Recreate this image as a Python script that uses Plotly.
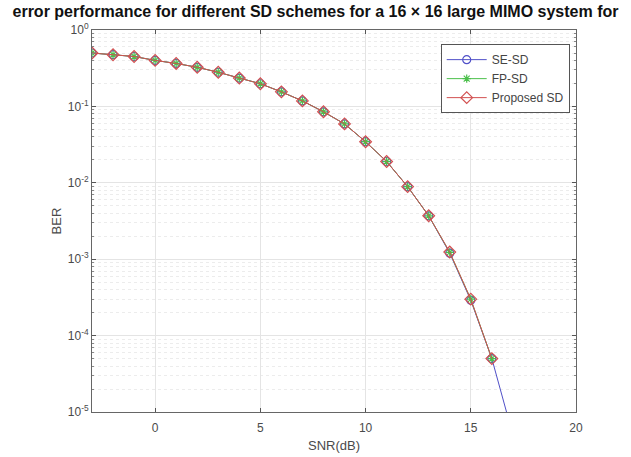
import plotly.graph_objects as go

snr_se = [-3, -2, -1, 0, 1, 2, 3, 4, 5, 6, 7, 8, 9, 10, 11, 12, 13, 14, 15, 16, 17]
ber_se = [0.50, 0.475, 0.45, 0.40, 0.365, 0.325, 0.28, 0.235, 0.198, 0.155, 0.118,
          0.085, 0.059, 0.0345, 0.019, 0.0089, 0.0037, 0.00120, 0.00029, 5.0e-5, 5.0e-6]
snr_fp = [-3, -2, -1, 0, 1, 2, 3, 4, 5, 6, 7, 8, 9, 10, 11, 12, 13, 14, 15, 16]
ber_fp = [0.50, 0.475, 0.45, 0.40, 0.365, 0.325, 0.28, 0.235, 0.198, 0.155, 0.118,
          0.085, 0.059, 0.0345, 0.019, 0.0089, 0.0037, 0.00123, 0.00030, 5.0e-5]
snr_prop = [-3, -2, -1, 0, 1, 2, 3, 4, 5, 6, 7, 8, 9, 10, 11, 12, 13, 14, 15, 16]
ber_prop = [0.50, 0.475, 0.45, 0.40, 0.365, 0.325, 0.28, 0.235, 0.198, 0.155, 0.118,
            0.085, 0.059, 0.0345, 0.019, 0.0089, 0.0037, 0.00124, 0.00030, 5.0e-5]

x_ticks = [0, 5, 10, 15, 20]
y_ticks = [1, 1e-1, 1e-2, 1e-3, 1e-4, 1e-5]
y_tick_text = ["10<sup>0</sup>", "10<sup>-1</sup>", "10<sup>-2</sup>", "10<sup>-3</sup>",
               "10<sup>-4</sup>", "10<sup>-5</sup>"]

title_text = "error performance for different SD schemes for a 16 × 16 large MIMO system for"

FONT = "Liberation Sans, Arial, sans-serif"

fig = go.Figure()
fig.add_trace(go.Scatter(x=snr_se, y=ber_se, name="SE-SD", mode="lines+markers",
                         line=dict(color="#5050c8", width=1),
                         marker=dict(symbol="circle-open", size=8, color="#5050c8",
                                     line=dict(width=1.2))))
fig.add_trace(go.Scatter(x=snr_fp, y=ber_fp, name="FP-SD", mode="lines+markers",
                         line=dict(color="#4cc04c", width=1),
                         marker=dict(symbol="asterisk-open", size=7, color="#4cc04c",
                                     line=dict(width=1.2, color="#4cc04c"))))
fig.add_trace(go.Scatter(x=snr_prop, y=ber_prop, name="Proposed SD", mode="lines+markers",
                         line=dict(color="#d25050", width=1),
                         marker=dict(symbol="diamond-open", size=9, color="#d25050",
                                     line=dict(width=1.2))))

axis_font = dict(family=FONT, size=12, color="#4a4a4a")

fig.update_layout(
    width=631, height=457,
    margin=dict(l=92, r=55, t=30, b=45, autoexpand=False),
    paper_bgcolor="white", plot_bgcolor="white",
    title=dict(text="<b>" + title_text + "</b>", x=0.5, xref="container",
               y=1, yref="container", yanchor="top", pad=dict(t=6),
               font=dict(family=FONT, size=16, color="#111")),
    legend=dict(x=0.987, y=0.963, xanchor="right", yanchor="top",
                bgcolor="white", bordercolor="#555", borderwidth=1,
                font=dict(family=FONT, size=12, color="#444"),
                tracegroupgap=0, itemwidth=40),
    showlegend=True,
)
fig.update_xaxes(range=[-3, 20], tickvals=x_ticks, ticks="inside", ticklen=4,
                 tickcolor="#555", showline=True, linecolor="#666", linewidth=1, mirror="ticks",
                 showgrid=True, gridcolor="#e4e4e4", gridwidth=1, zeroline=False,
                 tickfont=axis_font, ticklabelstandoff=5, automargin=False,
                 title=dict(text="SNR(dB)", font=dict(family=FONT, size=13, color="#4a4a4a"),
                            standoff=6))
fig.update_yaxes(type="log", range=[-5, 0], tickvals=y_ticks, ticktext=y_tick_text,
                 ticks="inside", ticklen=4, tickcolor="#555",
                 showline=True, linecolor="#666", linewidth=1, mirror="ticks",
                 showgrid=True, gridcolor="#e4e4e4", gridwidth=1, zeroline=False,
                 tickfont=axis_font, automargin=False,
                 minor=dict(ticks="inside", ticklen=2, tickcolor="#888", showgrid=True,
                            gridcolor="#ececec", griddash="dot", dtick="D1"),
                 title=dict(text="BER", font=dict(family=FONT, size=13, color="#4a4a4a"),
                            standoff=3))

fig.write_html("out.html", config={"displayModeBar": False},
               post_script="document.body.style.margin='0';")
